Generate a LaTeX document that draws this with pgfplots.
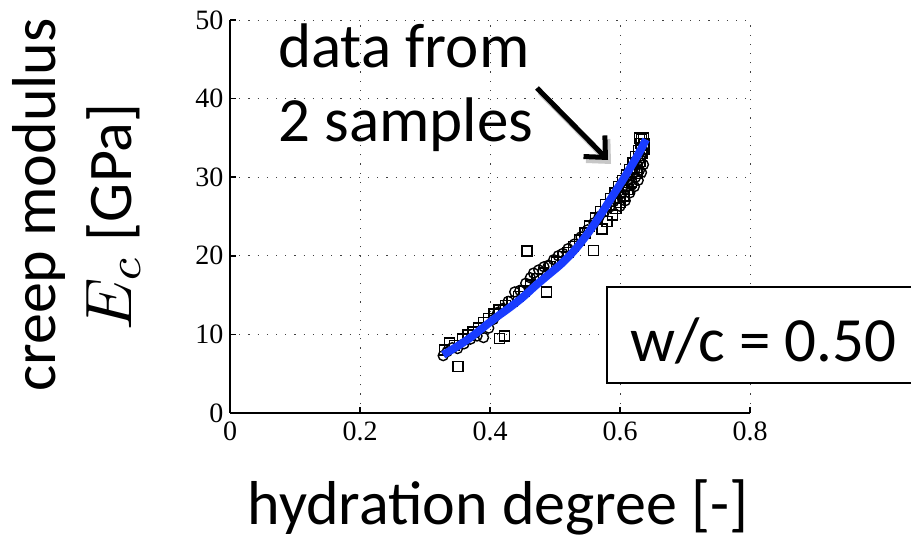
\documentclass[border=0pt]{standalone}
\usepackage{graphicx}
\usepackage{pgfplots}
\pgfplotsset{compat=1.18}
\usepackage{fontspec}
\setmainfont{Carlito}
\newfontfamily\tnr{Liberation Serif}
\usetikzlibrary{arrows.meta}
\definecolor{fitblue}{RGB}{25,60,255}
\begin{document}
\begin{tikzpicture}[x=1bp,y=1bp]
\useasboundingbox (0,0) rectangle (911,539);
\begin{axis}[at={(230bp,126bp)}, anchor=south west, scale only axis,
  width=520bp, height=393bp,
  xmin=0, xmax=0.8, ymin=0, ymax=50, clip mode=individual,
  axis x line=bottom, axis y line=left,
  axis line style={-, line width=2bp, black},
  xtick={0,0.2,0.4,0.6,0.8}, ytick={0,10,20,30,40,50},
  grid=major,
  major grid style={black!75, line width=0.9bp, dash pattern=on 1.2bp off 8bp},
  tick align=inside, major tick length=6bp,
  tick style={black, line width=1.5bp},
  ticklabel style={font=\tnr\fontsize{28bp}{28bp}\selectfont},
  /pgf/number format/assume math mode=true,
  xticklabel style={yshift=-5bp},
  yticklabel style={xshift=-3bp},
]
\addplot[only marks, mark=square, mark size=5bp, mark options={line width=1.4bp, black}] coordinates {
(0.330,8.0) (0.338,8.9) (0.345,8.6) (0.351,5.9) (0.358,9.4) (0.366,9.9) (0.374,10.3)
(0.382,10.8) (0.390,11.5) (0.398,12.0) (0.406,12.6) (0.415,9.5) (0.422,9.8) (0.414,13.1)
(0.424,13.7) (0.434,14.2) (0.444,14.8) (0.452,15.5) (0.457,20.6) (0.462,16.3) (0.472,17.1)
(0.482,17.8) (0.487,15.4) (0.492,18.6) (0.502,19.2) (0.512,19.9) (0.520,20.4) (0.528,21.2)
(0.538,22.0) (0.546,22.9) (0.553,23.8) (0.559,20.7) (0.562,24.8) (0.570,25.6) (0.578,26.5)
(0.585,27.3) (0.592,28.0) (0.598,28.8) (0.604,29.6) (0.610,30.3) (0.615,31.0) (0.620,31.8)
(0.624,32.6) (0.628,33.4) (0.632,34.3) (0.636,35.0) (0.630,35.0) (0.634,33.0) (0.638,34.2)
(0.626,30.5) (0.618,29.4) (0.612,28.4) (0.606,27.6) (0.600,26.8) (0.594,26.0) (0.588,25.2)
(0.580,24.4) (0.572,23.4) (0.633,34.8) (0.637,33.6) (0.631,32.0) (0.627,31.2)
};
\addplot[only marks, mark=o, mark size=5bp, mark options={line width=1.4bp, black}] coordinates {
(0.328,7.3) (0.334,7.8) (0.342,8.3) (0.350,8.2) (0.360,8.8) (0.370,9.4) (0.380,9.8)
(0.390,9.6) (0.398,10.8) (0.405,11.9) (0.412,12.8) (0.420,13.3) (0.428,14.2) (0.438,15.4)
(0.446,15.6) (0.455,16.5) (0.462,17.2) (0.467,17.8) (0.475,18.2) (0.483,18.6) (0.490,18.8)
(0.498,19.5) (0.505,20.0) (0.512,20.3) (0.520,20.9) (0.530,21.5) (0.540,22.4) (0.550,23.3)
(0.560,24.2) (0.568,25.0) (0.576,25.6) (0.584,26.2) (0.590,26.9) (0.596,27.3) (0.602,27.9)
(0.608,28.5) (0.612,29.2) (0.616,29.8) (0.620,30.4) (0.623,31.0) (0.626,31.6) (0.629,32.1)
(0.632,32.7) (0.635,33.4) (0.637,34.0) (0.622,28.8) (0.628,29.6) (0.633,30.6) (0.636,31.6)
(0.615,28.0) (0.608,27.0) (0.600,26.3) (0.624,30.0) (0.630,30.9) (0.618,29.0)
};
\addplot[fitblue, line width=8bp, smooth, mark=none] coordinates {
(0.328,7.4) (0.35,8.5) (0.37,9.6) (0.39,10.9) (0.41,12.2) (0.43,13.4) (0.45,14.7)
(0.47,16.2) (0.49,17.6) (0.51,19.0) (0.53,20.7) (0.55,22.8) (0.57,25.2) (0.59,27.8)
(0.61,30.4) (0.63,33.2) (0.64,34.8)
};
\end{axis}
% annotation box
\draw[line width=2.5bp, fill=white] (607,156) rectangle (930,252);
\node[anchor=base west, inner sep=0, font=\fontsize{63bp}{63bp}\selectfont] at (630,177) {w/c = 0.50};
% annotation text
\node[anchor=base west, inner sep=0, font=\fontsize{63bp}{63bp}\selectfont] at (278,471) {data from};
\node[anchor=base west, inner sep=0, font=\fontsize{63bp}{63bp}\selectfont] at (278,397) {2 samples};
% arrow with soft shadow
\draw[black!22, line width=6bp, -{Straight Barb[length=16bp,width=30bp]}] (540,447) -- (611,375);
\draw[black, line width=5bp, -{Straight Barb[length=16bp,width=30bp]}] (537,451) -- (608,379);
% axis labels
\node[anchor=base, inner sep=0, rotate=90, font=\fontsize{62bp}{62bp}\selectfont] at (55,334) {creep modulus};
\node[anchor=base, inner sep=0, rotate=90, font=\fontsize{62bp}{62bp}\selectfont] at (131,322) {\scalebox{6.6}{\normalsize$E_c$} [GPa]};
\node[anchor=base, inner sep=0, font=\fontsize{62bp}{62bp}\selectfont] at (498,14) {hydration degree [-]};
\end{tikzpicture}
\end{document}
